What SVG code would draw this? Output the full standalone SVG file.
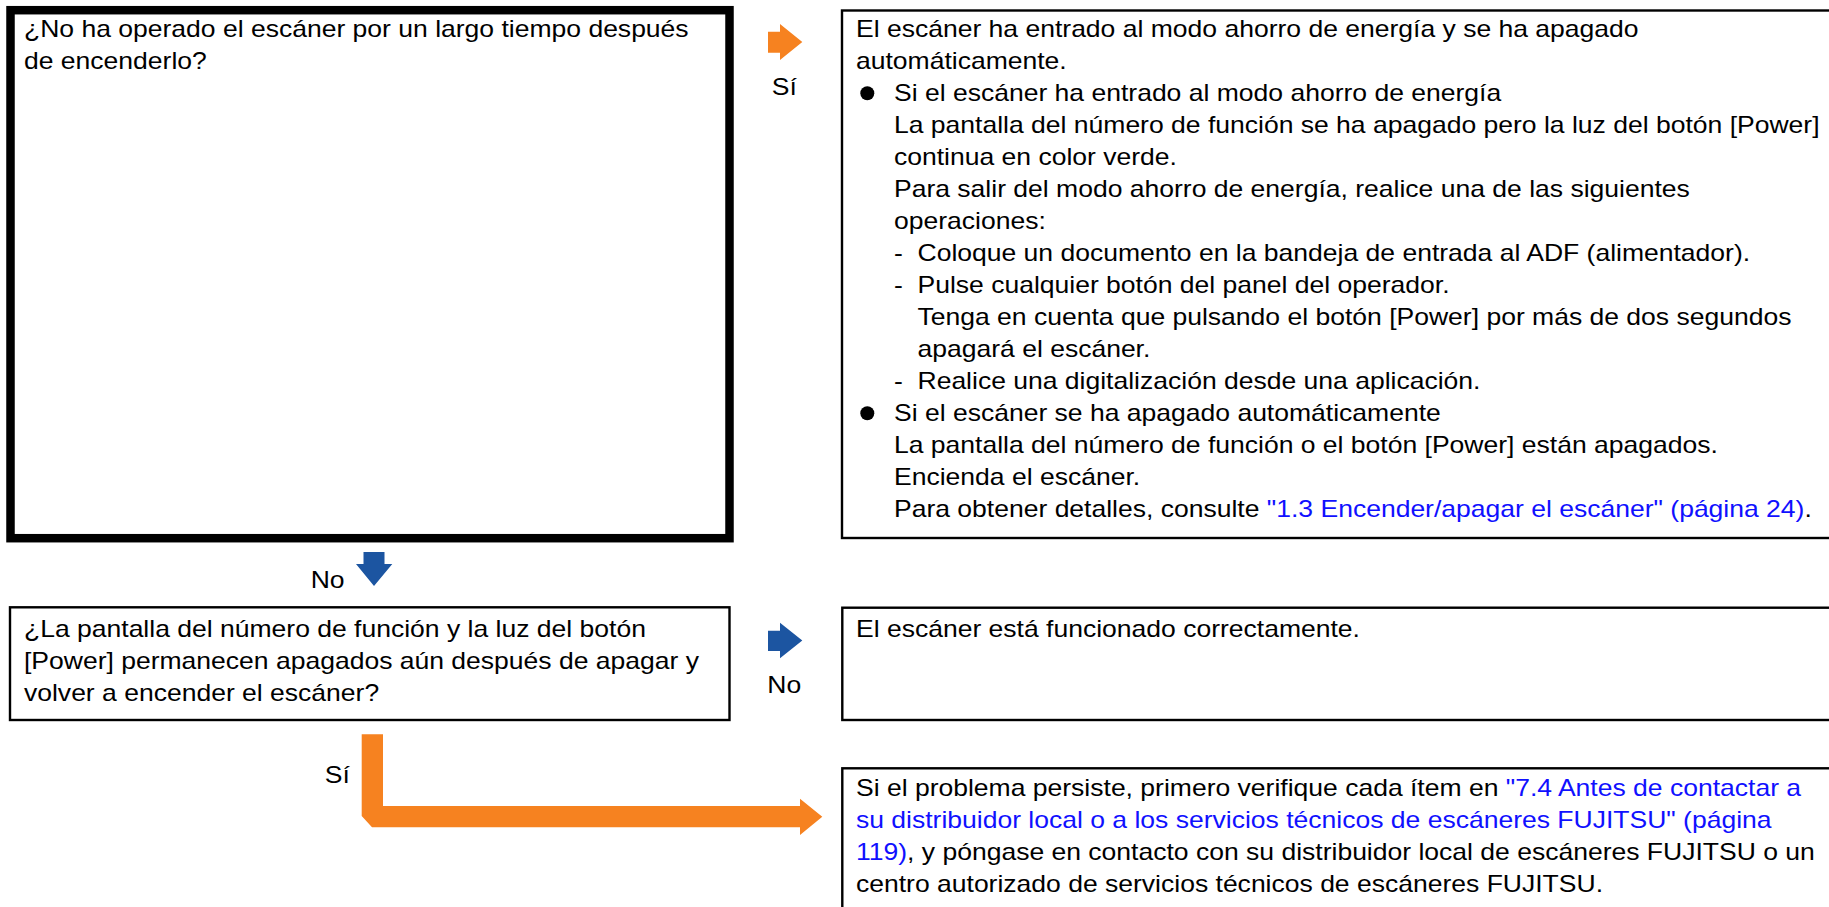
<svg xmlns="http://www.w3.org/2000/svg" width="1829" height="907" viewBox="0 0 1829 907">
<style>
  text { font-family: "Liberation Sans", Arial, sans-serif; font-size: 24px; fill: #000; }
  .lnk { fill: #1010ff; }
  .box { fill: #fff; stroke: #000; stroke-width: 2.4; }
  .thick { fill: #fff; stroke: #000; stroke-width: 8.5; }
  .org { fill: #f68220; }
  .blu { fill: #1c55a1; }
</style>
<rect width="1829" height="907" fill="#fff"/>

<g id="q1">
  <rect class="thick" x="10.5" y="10.2" width="719" height="528"/>
  <g transform="scale(1.105,1)">
    <text x="21.72" y="37.5">¿No ha operado el escáner por un largo tiempo después</text>
    <text x="21.72" y="69.5">de encenderlo?</text>
  </g>
</g>

<g id="r1">
  <rect class="box" x="842" y="10.5" width="1010" height="527.5"/>
  <circle cx="867.3" cy="93.3" r="7"/>
  <circle cx="867.3" cy="413.3" r="7"/>
  <g transform="scale(1.105,1)">
    <text x="774.66" y="37.5">El escáner ha entrado al modo ahorro de energía y se ha apagado</text>
    <text x="774.66" y="69.5">automáticamente.</text>
    <text x="809.05" y="101.5">Si el escáner ha entrado al modo ahorro de energía</text>
    <text x="809.05" y="133.5">La pantalla del número de función se ha apagado pero la luz del botón [Power]</text>
    <text x="809.05" y="165.5">continua en color verde.</text>
    <text x="809.05" y="197.5">Para salir del modo ahorro de energía, realice una de las siguientes</text>
    <text x="809.05" y="229.5">operaciones:</text>
    <text x="809.05" y="261.5">-</text>
    <text x="830.32" y="261.5">Coloque un documento en la bandeja de entrada al ADF (alimentador).</text>
    <text x="809.05" y="293.5">-</text>
    <text x="830.32" y="293.5">Pulse cualquier botón del panel del operador.</text>
    <text x="830.32" y="325.5">Tenga en cuenta que pulsando el botón [Power] por más de dos segundos</text>
    <text x="830.32" y="357.5">apagará el escáner.</text>
    <text x="809.05" y="389.5">-</text>
    <text x="830.32" y="389.5">Realice una digitalización desde una aplicación.</text>
    <text x="809.05" y="421.5">Si el escáner se ha apagado automáticamente</text>
    <text x="809.05" y="453.5">La pantalla del número de función o el botón [Power] están apagados.</text>
    <text x="809.05" y="485.5">Encienda el escáner.</text>
    <text x="809.05" y="517.5">Para obtener detalles, consulte <tspan class="lnk">"1.3 Encender/apagar el escáner" (página 24)</tspan>.</text>
  </g>
</g>

<g id="q2">
  <rect class="box" x="10" y="607.3" width="719.5" height="112.7"/>
  <g transform="scale(1.105,1)">
    <text x="21.72" y="637">¿La pantalla del número de función y la luz del botón</text>
    <text x="21.72" y="669">[Power] permanecen apagados aún después de apagar y</text>
    <text x="21.72" y="701">volver a encender el escáner?</text>
  </g>
</g>

<g id="r2">
  <rect class="box" x="842.3" y="607.7" width="1010" height="112.3"/>
  <g transform="scale(1.105,1)">
    <text x="774.66" y="637">El escáner está funcionado correctamente.</text>
  </g>
</g>

<g id="r3">
  <rect class="box" x="842.3" y="768.3" width="1010" height="200"/>
  <g transform="scale(1.105,1)">
    <text x="774.66" y="796">Si el problema persiste, primero verifique cada ítem en <tspan class="lnk">"7.4 Antes de contactar a</tspan></text>
    <text x="774.66" y="828" class="lnk">su distribuidor local o a los servicios técnicos de escáneres FUJITSU" (página</text>
    <text x="774.66" y="860"><tspan class="lnk">119)</tspan>, y póngase en contacto con su distribuidor local de escáneres FUJITSU o un</text>
    <text x="774.66" y="892">centro autorizado de servicios técnicos de escáneres FUJITSU.</text>
  </g>
</g>

<g id="connectors">
  <polygon class="org" points="768,31.7 780,31.7 780,24 802.3,42 780,60 780,52.7 768,52.7"/>
  <polygon class="blu" points="768,630.7 780,630.7 780,622.7 802.3,640.5 780,658.3 780,651 768,651"/>
  <polygon class="blu" points="363.5,552 384.5,552 384.5,564 392.3,564 374,586 356,564 363.5,564"/>
  <path class="org" d="M361.7,734.3 H383 V806 H800 V798.7 L822.3,816.7 L800,835 V827.3 H372 L361.7,816 Z"/>
  <g transform="scale(1.105,1)">
    <text x="698.46" y="95">Sí</text>
    <text x="694.39" y="693.3">No</text>
    <text x="281.18" y="588.3">No</text>
    <text x="293.94" y="783.3">Sí</text>
  </g>
</g>
</svg>
